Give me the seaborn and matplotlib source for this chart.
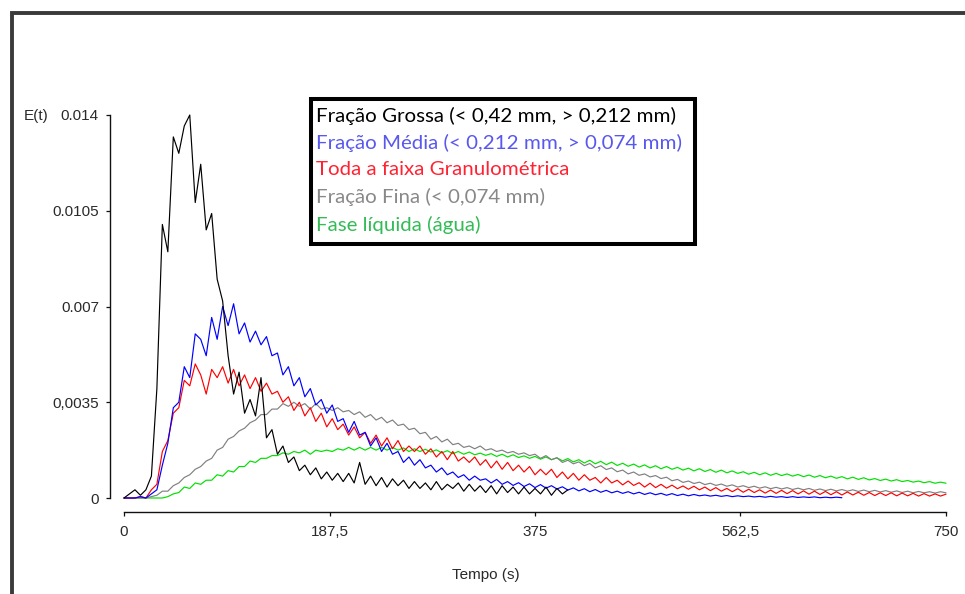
import numpy as np
import pandas as pd
import matplotlib
matplotlib.use("Agg")
import matplotlib.pyplot as plt
import seaborn as sns
from matplotlib.patches import Rectangle
from matplotlib import font_manager

# ---------------- data (E(t) in units of 1e-4, sampled every 5 s from t = 0) ----------------
STEP = 5.0
UNIT = 1e-4

grossa = [0, 1.5, 3, 1, 3, 8, 40, 100, 90, 132,
          126, 136, 140, 108, 122, 98, 104, 80, 72, 52,
          38, 46, 31, 36, 30, 44, 22, 25, 16, 19,
          13, 15, 10, 12, 8.5, 11, 7, 9.5, 6.5, 9,
          6, 9, 5.5, 13, 5, 8, 4.5, 7.5, 4, 7,
          4.5, 6.5, 3.5, 6, 3.5, 5.5, 3, 6, 3, 5,
          3.5, 5.5, 2.5, 5, 2.5, 4.5, 2, 4.5, 1.5, 4.5,
          2, 4, 1.5, 4, 1.5, 3.5, 1.5, 4, 1, 3.5,
          1.5, 3]

media = [0, 0, 0, 0.5, 0, 1.5, 3, 12, 20, 33,
         35, 48, 44, 60, 58, 52, 66, 58, 70, 63,
         71, 60, 64, 57, 61, 56, 59, 52, 53, 45,
         48, 41, 44, 37, 40, 34, 36, 31, 34, 28,
         29, 24, 28, 23, 24, 19, 22, 17, 20, 16,
         17, 13, 15, 12, 14, 11, 12, 9.5, 11, 8.5,
         9.5, 7.5, 8.5, 6.5, 8, 6.5, 7, 5.5, 6.8, 5,
         6, 4.6, 5.6, 4.2, 5.2, 3.8, 4.9, 3.6, 4.5, 3.3,
         4.1, 2.9, 3.7, 2.6, 3.4, 2.3, 3.1, 2.1, 2.8, 1.9,
         2.5, 1.7, 2.3, 1.5, 2.1, 1.3, 1.9, 1.2, 1.7, 1.0,
         1.6, 0.9, 1.4, 0.8, 1.3, 0.8, 1.1, 0.7, 1.0, 0.6,
         0.9, 0.5, 0.8, 0.5, 0.7, 0.4, 0.6, 0.3, 0.6, 0.3,
         0.5, 0.2, 0.5, 0.2, 0.4, 0.2, 0.4, 0.1, 0.3, 0.1,
         0.3, 0.1]

toda = [0, 0, 0, 0.5, 0, 3, 5, 17, 21, 31,
        33, 43, 41, 49, 45, 38, 47, 44, 48, 42,
        47, 41, 45, 40, 44, 39, 42, 38, 39, 35,
        37, 32, 35, 30, 33, 28, 31, 26, 29, 25,
        27, 23, 26, 22, 24, 20, 23, 19, 22, 18,
        21, 17, 19, 17, 19, 16, 18, 15, 17, 14,
        17, 13.5, 15, 13, 15, 12, 14, 11, 13.5, 10.5,
        13, 10, 12, 9.5, 11.5, 8.5, 10.5, 8.5, 10.5, 7.5,
        9.5, 7, 9, 6.5, 8.5, 6.5, 7.5, 5.5, 7.5, 5.5,
        6.5, 4.8, 6.2, 4.6, 5.6, 4.0, 5.4, 3.8, 5.0, 3.6,
        4.7, 3.4, 4.4, 3.2, 4.3, 3.0, 4.0, 2.7, 3.8, 2.5,
        3.5, 2.3, 3.4, 2.1, 3.2, 2.0, 3.0, 1.8, 2.9, 1.7,
        2.8, 1.6, 2.7, 1.5, 2.6, 1.4, 2.5, 1.3, 2.4, 1.2,
        2.3, 1.1, 2.2, 1.1, 2.1, 1.0, 2.0, 0.9, 1.9, 0.9,
        1.9, 0.8, 1.8, 0.8, 1.7, 0.7, 1.6, 0.7, 1.5, 0.7,
        1.4]

fina = [0, 0, 0, 0, 0, 0.5, 1, 2.5, 2.5, 4.5,
        5.5, 7.5, 8.5, 10.5, 11.5, 13.5, 14.5, 17.5, 18.5, 21.5,
        22.5, 24.5, 25.5, 27.5, 28.5, 30.5, 30.5, 32.5, 32.5, 34.5,
        33.5, 35, 33.5, 34.5, 32.5, 34.5, 32.5, 33, 32, 33,
        31.5, 32, 30.5, 31.5, 29.5, 30.5, 28.5, 29.5, 27.5, 28.5,
        26.5, 27, 25, 25.5, 23.5, 24, 21.5, 22.5, 20.5, 21.5,
        19.5, 20, 18.5, 19, 18, 19, 17.5, 18, 17, 17.5,
        16.5, 17, 16, 16.5, 15.5, 16, 14.5, 15.5, 14, 14.7,
        13, 13.8, 12.5, 13.2, 11.8, 12.6, 11, 11.8, 10.4, 11,
        9.6, 10.2, 8.8, 9.5, 8.3, 8.8, 7.7, 8.2, 7.1, 7.6,
        6.3, 6.8, 5.7, 6.2, 5.3, 5.8, 4.9, 5.4, 4.6, 5.1,
        4.3, 4.8, 4.0, 4.5, 3.8, 4.3, 3.6, 4.1, 3.4, 3.9,
        3.3, 3.8, 3.1, 3.6, 3.0, 3.5, 2.8, 3.3, 2.7, 3.2,
        2.6, 3.1, 2.5, 3.0, 2.4, 2.9, 2.3, 2.8, 2.2, 2.7,
        2.1, 2.6, 2.0, 2.5, 1.9, 2.4, 1.9, 2.3, 1.8, 2.3,
        1.9]

liquida = [0, 0, 0, 0, 0, 0, 0, 0, 0.5, 1.5,
           2, 4, 3.5, 5.5, 5, 6.5, 6.5, 8.5, 8, 10,
           9.5, 11.5, 11.5, 13.5, 13, 14.5, 14.5, 15.5, 15.5, 16.5,
           16, 17, 16.5, 17.5, 16, 17.5, 17, 17.5, 17, 18,
           17.5, 18.5, 17.5, 18.5, 17.5, 18.5, 17.5, 18.5, 17.5, 18.5,
           17.5, 18.3, 17, 18, 17, 17.8, 16.8, 17.6, 16.5, 17.3,
           16.2, 17, 16, 16.8, 15.8, 16.4, 15.6, 16.2, 15.2, 16,
           15, 15.8, 14.8, 15.4, 14.5, 15.2, 14.2, 15, 14, 14.7,
           13.6, 14.4, 13.2, 14, 12.8, 13.8, 12.5, 13.4, 12.2, 13.1,
           11.9, 12.7, 11.6, 12.4, 11.3, 12.1, 11.0, 11.8, 10.7, 11.5,
           10.5, 11.2, 10.2, 10.9, 9.9, 10.7, 9.7, 10.4, 9.4, 10.2,
           9.2, 9.9, 9.0, 9.6, 8.7, 9.4, 8.5, 9.2, 8.3, 9.0,
           8.2, 8.8, 8.0, 8.6, 7.8, 8.4, 7.6, 8.2, 7.4, 8.0,
           7.2, 7.8, 7.0, 7.6, 6.8, 7.4, 6.6, 7.1, 6.4, 6.9,
           6.2, 6.7, 6.0, 6.4, 5.8, 6.2, 5.6, 6.0, 5.4, 5.8,
           5.4]

labels = ["Fração Grossa (< 0,42 mm, > 0,212 mm)",
          "Fração Média (< 0,212 mm, > 0,074 mm)",
          "Toda a faixa Granulométrica",
          "Fração Fina (< 0,074 mm)",
          "Fase líquida (água)"]
series = [grossa, media, toda, fina, liquida]

line_colors = ["#000000", "#0000ff", "#ff0000", "#808080", "#00e000"]
text_colors = ["#000000", "#5858ee", "#ff2233", "#888888", "#33bb55"]

xticks = [0, 187.5, 375, 562.5, 750]
xticklabels = ["0", "187,5", "375", "562,5", "750"]
yticks = [0, 0.0035, 0.007, 0.0105, 0.014]
yticklabels = ["0", "0,0035", "0.007", "0.0105", "0.014"]
xlabel = "Tempo (s)"
ylabel = "E(t)"

# ---------------- build long-form table ----------------
frames = []
for lab, vals in zip(labels, series):
    v = np.asarray(vals, dtype=float) * UNIT
    t = np.arange(len(v)) * STEP
    frames.append(pd.DataFrame({"t": t, "E": v, "serie": lab}))
df = pd.concat(frames, ignore_index=True)

# ---------------- style ----------------
sns.set_theme(style="white")
names = {f.name for f in font_manager.fontManager.ttflist}
tick_family = "Liberation Sans Narrow" if "Liberation Sans Narrow" in names else "Liberation Sans"
tick_size = 12 if tick_family == "Liberation Sans Narrow" else 11
leg_family = "Lato" if "Lato" in names else "Open Sans"
plt.rcParams["font.family"] = [tick_family, "DejaVu Sans"]

W, H = 965, 594
fig = plt.figure(figsize=(W / 100, H / 100), dpi=100)
fig.patch.set_facecolor("white")

ax_l, ax_r, ax_t, ax_b = 124, 946, 115, 498
ax = fig.add_axes([ax_l / W, 1 - ax_b / H, (ax_r - ax_l) / W, (ax_b - ax_t) / H])
ax.set_facecolor("white")

palette = dict(zip(labels, line_colors))
sns.lineplot(data=df, x="t", y="E", hue="serie", hue_order=labels[::-1],
             palette=palette, estimator=None, sort=False, legend=False,
             linewidth=0.85, ax=ax)
for ln in ax.lines:
    ln.set_clip_on(False)

ax.set_xlim(0, 750)
ax.set_ylim(0, 0.014)
ax.set_xticks(xticks)
ax.set_xticklabels(xticklabels)
ax.set_yticks(yticks)
ax.set_yticklabels(yticklabels)
ax.set_xlabel("")
ax.set_ylabel("")

for s in ("top", "right"):
    ax.spines[s].set_visible(False)
off = 14 * 72 / 100
ax.spines["left"].set_position(("outward", off))
ax.spines["bottom"].set_position(("outward", off))
ax.spines["left"].set_bounds(0, 0.014)
ax.spines["bottom"].set_bounds(0, 750)
for s in ("left", "bottom"):
    ax.spines[s].set_color("#111111")
    ax.spines[s].set_linewidth(1.0)

ax.tick_params(axis="both", which="major", direction="out", length=3, width=0.9,
               color="#111111", labelcolor="#2a2a2a", labelsize=tick_size,
               left=True, bottom=True)
ax.tick_params(axis="y", pad=5)
ax.tick_params(axis="x", pad=6)

# axis titles
fig.text(24 / W, 1 - 116 / H, ylabel, ha="left", va="center",
         fontsize=tick_size, color="#2a2a2a", family=[tick_family, "DejaVu Sans"])
fig.text(486 / W, 1 - 575 / H, xlabel, ha="center", va="center",
         fontsize=tick_size, color="#2a2a2a", family=[tick_family, "DejaVu Sans"])

# outer frame
fig.add_artist(Rectangle((12 / W, -0.5), 1.5, (1 - 13 / H) + 0.5,
                         transform=fig.transFigure, fill=False,
                         edgecolor="#3a3a3a", linewidth=2.8))

# legend box
bx0, bx1, by0, by1 = 311, 695, 99, 244
fig.add_artist(Rectangle((bx0 / W, 1 - by1 / H), (bx1 - bx0) / W, (by1 - by0) / H,
                         transform=fig.transFigure, facecolor="white",
                         edgecolor="black", linewidth=2.9, zorder=5))
renderer = fig.canvas.get_renderer()
probe = fig.text(0, 0, labels[0], fontsize=12, family=leg_family)
wid = probe.get_window_extent(renderer).width
probe.remove()
leg_size = 12 * 357 / wid
ys = [116, 143, 170, 197, 225]
for lab, col, yy in zip(labels, text_colors, ys):
    fig.text(316 / W, 1 - yy / H, lab, ha="left", va="center", color=col,
             fontsize=leg_size, family=leg_family, zorder=6)

fig.savefig("out.png", dpi=100, facecolor="white")
